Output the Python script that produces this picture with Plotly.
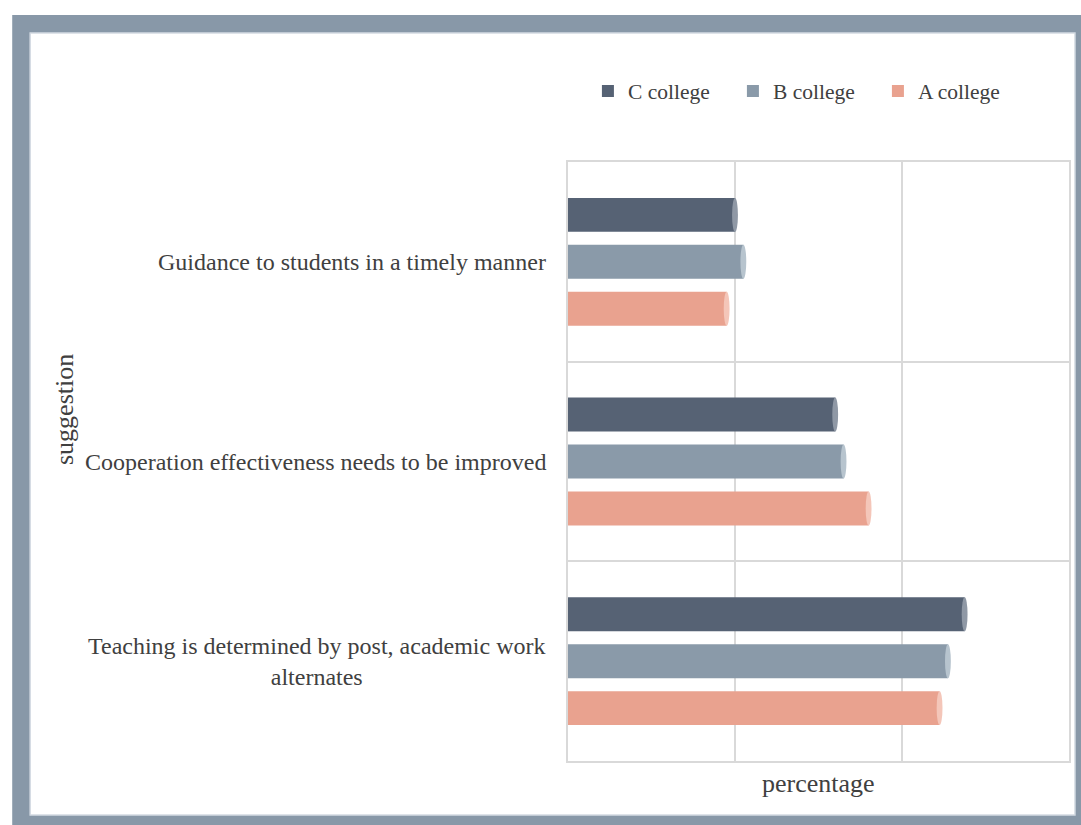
import plotly.graph_objects as go

categories = ["Guidance to students in a timely manner",
              "Cooperation effectiveness needs to be improved",
              "Teaching is determined by post, academic work<br>alternates"]
series_names = ["C college", "B college", "A college"]
c_vals = [0.20, 0.32, 0.475]
b_vals = [0.21, 0.33, 0.455]
a_vals = [0.19, 0.36, 0.445]

colors = ["#566274", "#8a9aa9", "#e9a28f"]
cap_colors = ["#8f98a5", "#b7c4ce", "#f4c6b9"]

W, H = 1081, 825
L, R, T, B = 568, 1071, 162, 761
pw, ph = R - L, B - T

def px(x):
    return (x - L) / pw

def py(y):
    return (B - y) / ph

FONT = "Liberation Serif, Times New Roman, serif"
TXT = "#404040"

fig = go.Figure()
series = [c_vals, b_vals, a_vals]
idx = list(range(len(categories)))
for name, vals, col in zip(series_names, series, colors):
    fig.add_trace(go.Bar(y=idx, x=vals, name=name, orientation="h",
                         marker=dict(color=col, line=dict(width=0))))

bargap = 0.295
bgg = 0.277
slot = (1 - bargap) / 3
barw = slot * (1 - bgg)
xmax = 0.6
cap_half = 0.0035

shapes = []
# frame
shapes.append(dict(type="rect", xref="paper", yref="paper", x0=px(10), x1=px(1090),
                   y0=py(835), y1=py(15), fillcolor="#8898a8", line=dict(width=0), layer="below"))
shapes.append(dict(type="rect", xref="paper", yref="paper", x0=px(28), x1=px(1077),
                   y0=py(815), y1=py(33), fillcolor="white", line=dict(color="#d3dae2", width=1.5), layer="below"))
# cylinder caps
for si, (vals, cc) in enumerate(zip(series, cap_colors)):
    for ci, v in enumerate(vals):
        center = ci - (1 - bargap) / 2 + slot * (si + 0.5)
        shapes.append(dict(type="circle", xref="x", yref="y",
                           x0=v - cap_half, x1=v + cap_half,
                           y0=center - barw / 2, y1=center + barw / 2,
                           fillcolor=cc, line=dict(width=0), layer="above"))

annotations = []
for ci, cat in enumerate(categories):
    annotations.append(dict(x=0, y=ci, xref="paper", yref="y", text=cat, showarrow=False,
                            xanchor="right", yanchor="middle", xshift=-20, align="center",
                            font=dict(family=FONT, size=24, color=TXT)))
annotations.append(dict(x=px(62), y=py(410), xref="paper", yref="paper", text="suggestion",
                        textangle=-90, showarrow=False, xanchor="center", yanchor="middle",
                        font=dict(family=FONT, size=26, color=TXT)))
annotations.append(dict(x=px(820), y=py(783), xref="paper", yref="paper", text="percentage",
                        showarrow=False, xanchor="center", yanchor="middle",
                        font=dict(family=FONT, size=26, color=TXT)))

fig.update_layout(
    width=W, height=H,
    margin=dict(l=L, r=W - R, t=T, b=H - B),
    paper_bgcolor="white", plot_bgcolor="rgba(0,0,0,0)",
    barmode="group", bargap=bargap, bargroupgap=bgg,
    showlegend=True,
    legend=dict(orientation="h", x=px(588), y=py(91), xanchor="left", yanchor="middle",
                font=dict(family=FONT, size=21.5, color=TXT), itemwidth=30,
                entrywidth=100, itemclick=False, bgcolor="rgba(0,0,0,0)"),
    shapes=shapes, annotations=annotations,
    xaxis=dict(range=[0, xmax], dtick=0.2, showticklabels=False, showgrid=True,
               gridcolor="#d9d9d9", gridwidth=1.5, showline=True, mirror=True,
               linecolor="#d9d9d9", linewidth=2, zeroline=False, ticks=""),
    yaxis=dict(range=[2.5, -0.5], tickvals=[0.5, 1.5], showticklabels=False,
               showgrid=True, gridcolor="#d9d9d9", gridwidth=1.5, showline=True, mirror=True,
               linecolor="#d9d9d9", linewidth=2, zeroline=False, ticks=""),
)

fig.write_html("out.html")
